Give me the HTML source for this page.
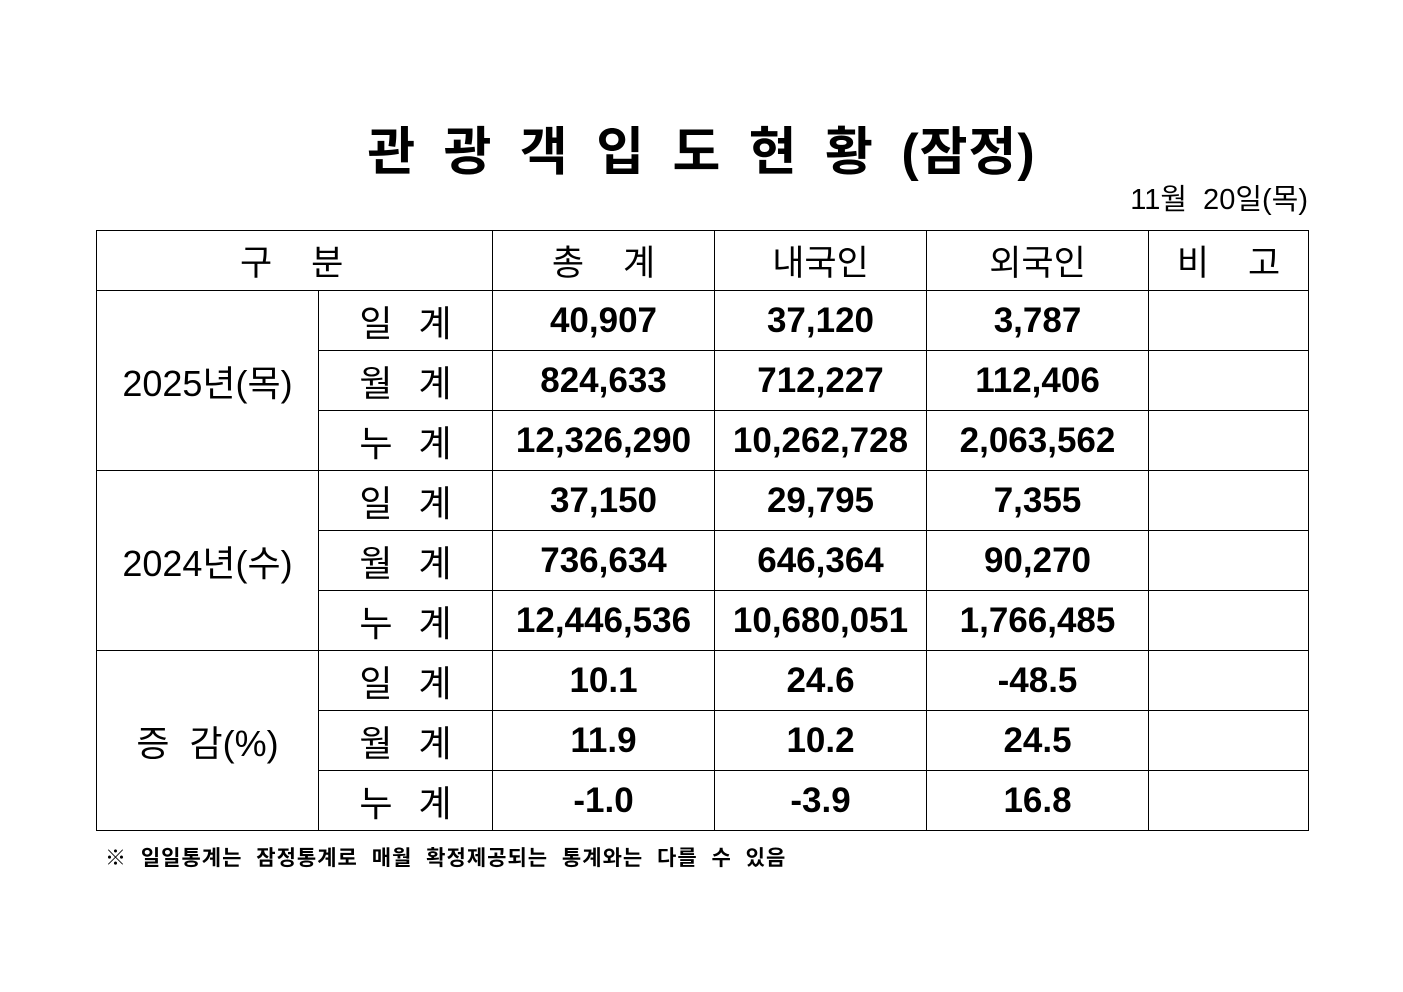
<!DOCTYPE html>
<html><head><meta charset="utf-8"><style>
body{margin:0;width:1403px;height:992px;background:#fff;position:relative;font-family:"Liberation Sans","Noto Sans CJK KR","NanumGothic",sans-serif;color:#000}
.title{position:absolute;left:0;width:1403px;top:110px;text-align:center;font-size:52px;font-weight:bold;letter-spacing:1px;word-spacing:12px}
.date{position:absolute;right:95px;top:176px;font-size:29px;word-spacing:8px}
table{position:absolute;left:96px;top:230px;border-collapse:collapse;table-layout:fixed}
td{border:1.3px solid #000;text-align:center;padding:0;height:59px;font-size:34px}
.n{font-weight:bold;font-size:35px}
.l{font-size:36px;letter-spacing:0;word-spacing:16px;padding-left:0}
.g{font-size:35px}
.y{font-size:36px}
.foot{position:absolute;left:105px;top:842px;font-size:21px;font-weight:bold;word-spacing:7px;letter-spacing:1px}
</style></head><body>
<div class="title">관 광 객 입 도 현 황 (잠정)</div>
<div class="date">11월 20일(목)</div>
<table>
<colgroup><col style="width:222px"><col style="width:174px"><col style="width:222px"><col style="width:212px"><col style="width:222px"><col style="width:160px"></colgroup>
<tr><td colspan="2" class="g" style="text-align:left;padding-left:143px">구&nbsp;&nbsp;&nbsp;&nbsp;분</td><td class="g">총&nbsp;&nbsp;&nbsp;&nbsp;계</td><td class="g">내국인</td><td class="g">외국인</td><td class="g">비&nbsp;&nbsp;&nbsp;&nbsp;고</td></tr>
<tr><td rowspan="3" class="y">2025년(목)</td><td class="l">일 계</td><td class="n">40,907</td><td class="n">37,120</td><td class="n">3,787</td><td></td></tr>
<tr><td class="l">월 계</td><td class="n">824,633</td><td class="n">712,227</td><td class="n">112,406</td><td></td></tr>
<tr><td class="l">누 계</td><td class="n">12,326,290</td><td class="n">10,262,728</td><td class="n">2,063,562</td><td></td></tr>
<tr><td rowspan="3" class="y">2024년(수)</td><td class="l">일 계</td><td class="n">37,150</td><td class="n">29,795</td><td class="n">7,355</td><td></td></tr>
<tr><td class="l">월 계</td><td class="n">736,634</td><td class="n">646,364</td><td class="n">90,270</td><td></td></tr>
<tr><td class="l">누 계</td><td class="n">12,446,536</td><td class="n">10,680,051</td><td class="n">1,766,485</td><td></td></tr>
<tr><td rowspan="3" class="y">증&nbsp;&nbsp;감(%)</td><td class="l">일 계</td><td class="n">10.1</td><td class="n">24.6</td><td class="n">-48.5</td><td></td></tr>
<tr><td class="l">월 계</td><td class="n">11.9</td><td class="n">10.2</td><td class="n">24.5</td><td></td></tr>
<tr><td class="l">누 계</td><td class="n">-1.0</td><td class="n">-3.9</td><td class="n">16.8</td><td></td></tr>
</table>
<div class="foot">※ 일일통계는 잠정통계로 매월 확정제공되는 통계와는 다를 수 있음</div>
</body></html>
